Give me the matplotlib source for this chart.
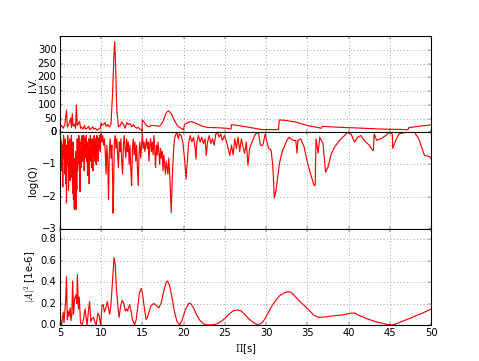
import matplotlib
matplotlib.use("Agg")
import matplotlib.pyplot as plt

# ---------------- data ----------------
iv_x = [5.0, 5.2, 5.4, 5.6, 5.8, 5.9, 6.1, 6.3, 6.4, 6.5, 6.6, 6.8, 6.9, 7.0, 7.1, 7.2, 7.4, 7.5, 7.6,
        7.8, 8.0, 8.1, 8.3, 8.5, 8.6, 8.8, 9.0, 9.1, 9.3, 9.5, 9.7, 9.9, 10.0, 10.1, 10.3, 10.5, 10.6,
        10.8, 11.0, 11.2, 11.4, 11.55, 11.65, 11.75, 11.9, 12.1, 12.3, 12.5, 12.7, 12.9, 13.1, 13.3,
        13.5, 13.7, 13.9, 14.1, 14.3, 14.5, 14.7, 14.9, 14.95, 15.0, 15.2, 15.5, 15.8, 16.0, 16.3,
        16.7, 17.0, 17.2, 17.5, 17.8, 18.0, 18.2, 18.5, 18.9, 19.3, 19.7, 20.0, 20.1, 20.5, 20.9,
        21.5, 22.3, 22.9, 24.0, 25.2, 25.75, 25.8, 26.8, 28.0, 29.5, 31.5, 31.6, 32.2, 33.5, 35.0,
        36.7, 36.8, 38.5, 41.0, 44.0, 47.2, 47.3, 48.5, 50.0]
iv_v = [18, 25, 15, 28, 80, 20, 30, 52, 18, 68, 22, 30, 15, 100, 25, 30, 40, 15, 20,
        12, 25, 12, 15, 22, 10, 14, 20, 12, 15, 8, 12, 15, 35, 25, 30, 35, 22,
        28, 20, 30, 150, 280, 330, 250, 80, 20, 25, 38, 30, 15, 35, 28,
        32, 20, 28, 20, 15, 18, 12, 8, 5, 45, 38, 25, 20, 25, 25,
        24, 22, 25, 40, 65, 75, 78, 68, 42, 22, 15, 10, 28, 36, 39,
        33, 22, 18, 17, 15, 12, 28, 24, 18, 10, 10, 45, 44, 38, 25,
        15, 22, 19, 16, 12, 10, 17, 22, 27]

q_x = [5.00, 5.05, 5.10, 5.15, 5.20, 5.25, 5.30, 5.35, 5.40, 5.45, 5.50, 5.55, 5.60, 5.65, 5.70,
       5.75, 5.80, 5.85, 5.90, 5.95, 6.00, 6.05, 6.10, 6.15, 6.20, 6.25, 6.30, 6.35, 6.40, 6.45,
       6.50, 6.55, 6.60, 6.65, 6.70, 6.75, 6.80, 6.85, 6.90, 6.95, 7.00, 7.05, 7.10, 7.15, 7.20,
       7.25, 7.30, 7.35, 7.40, 7.45, 7.50, 7.55, 7.60, 7.65, 7.70, 7.75, 7.80, 7.85, 7.90, 7.95,
       8.00, 8.05, 8.10, 8.15, 8.20, 8.25, 8.30, 8.35, 8.40, 8.45, 8.50, 8.55, 8.60, 8.65, 8.70,
       8.75, 8.80, 8.85, 8.90, 8.95, 9.00, 9.05, 9.10, 9.15, 9.20, 9.25, 9.30, 9.35, 9.40, 9.45,
       9.50, 9.55, 9.60, 9.65, 9.70, 9.75, 9.80, 9.85, 9.90, 9.95,
       10.0, 10.1, 10.2, 10.3, 10.4, 10.5, 10.6, 10.7, 10.8, 10.9, 11.0, 11.1, 11.2, 11.3, 11.4,
       11.45, 11.55, 11.6, 11.7, 11.8, 11.9, 12.0, 12.1, 12.2, 12.3, 12.4, 12.5, 12.6, 12.7, 12.8,
       12.9, 13.0, 13.1, 13.2, 13.3, 13.4, 13.5, 13.6, 13.7, 13.8, 13.9, 14.0, 14.1, 14.2, 14.3,
       14.4, 14.5, 14.6, 14.7, 14.8, 14.9, 15.0,
       15.1, 15.2, 15.3, 15.4, 15.5, 15.6, 15.7, 15.8, 15.9, 16.0, 16.1, 16.2, 16.3, 16.4, 16.5,
       16.6, 16.7, 16.8, 16.9, 17.0, 17.1, 17.2, 17.3, 17.4, 17.5, 17.6, 17.7, 17.8, 17.9, 18.0,
       18.1, 18.2, 18.35, 18.5, 18.6, 18.7, 18.8, 18.9, 19.0, 19.2, 19.35, 19.5, 19.7, 19.9, 20.1,
       20.3, 20.45, 20.6,
       20.8, 21.0, 21.2, 21.4, 21.5, 21.6, 21.8, 22.0, 22.2, 22.4, 22.6, 22.75, 22.9, 23.1, 23.3,
       23.5, 23.7, 23.9, 24.1, 24.3, 24.5, 24.7, 24.95, 25.2, 25.4, 25.6, 25.8, 26.0, 26.2, 26.4,
       26.6, 26.8, 27.0, 27.2, 27.4, 27.6, 27.8, 28.0, 28.3, 28.6, 28.9, 29.1, 29.3, 29.6, 29.9,
       30.1, 30.3, 30.6, 30.8, 31.0, 31.2, 31.4, 31.6, 31.8, 32.0, 32.2, 32.5, 32.8, 33.0, 33.3,
       33.6, 33.75, 33.85, 34.2, 34.6, 35.0, 35.4, 35.8, 35.95, 36.05, 36.3, 36.5, 36.9, 37.2, 37.5,
       37.9, 38.3, 38.9, 39.5, 39.9, 40.3, 40.7, 41.1, 41.5, 41.9, 42.5, 42.9, 43.0, 43.1, 43.4,
       43.9, 44.5, 44.9, 45.3, 45.35, 45.7, 46.1, 46.9, 48.0, 48.5, 49.2, 49.8, 50.0]
q_v = [-0.1, -0.6, -0.2, -0.9, -0.3, -1.2, -0.4, -1.7, -0.5, -0.1, -0.8, -0.3, -1.3, -0.2, -1.6,
       -0.6, -2.2, -0.4, -1.0, -0.1, -0.7, -1.8, -0.3, -1.1, -0.2, -1.5, -0.5, -0.9, -0.1, -1.4,
       -0.6, -1.9, -0.3, -2.1, -0.8, -2.4, -1.0, -2.35, -0.6, -2.4, -0.9, -1.8, -0.2, -1.2, -0.4,
       -0.8, -0.1, -1.0, -0.3, -1.85, -0.5, -1.1, -0.2, -0.7, -0.1, -0.9, -0.3, -0.6, -0.1, -1.2,
       -0.4, -0.8, -0.2, -0.5, -0.1, -0.9, -0.3, -1.35, -0.4, -0.7, -0.2, -1.6, -0.5, -0.9, -0.1,
       -0.6, -0.3, -1.1, -0.2, -0.5, -1.2, -0.3, -0.7, -0.1, -0.5, -0.9, -0.2, -0.6, -1.0, -0.3,
       -0.1, -0.8, -0.4, -0.9, -0.2, -0.5, -0.1, -0.3, -0.6, -0.1,
       -0.05, -0.3, -0.1, -0.4, -0.2, -0.6, -1.3, -0.4, -0.9, -2.1, -0.6, -0.2, -0.8, -0.4, -1.5,
       -2.52, -1.2, -0.3, -0.1, -0.5, -0.2, -0.7, -1.1, -0.3, -0.6, -0.2, -0.9, -1.3, -0.4, -0.1,
       -0.5, -0.8, -0.2, -0.6, -0.3, -1.0, -0.4, -1.2, -1.65, -0.5, -0.2, -0.7, -0.3, -0.9, -0.4,
       -1.1, -1.66, -0.6, -0.3, -0.8, -0.4, -0.05,
       -0.5, -0.3, -0.6, -0.4, -0.2, -0.5, -0.3, -0.9, -0.4, -0.2, -0.6, -0.3, -0.7, -0.1, -0.5,
       -1.1, -0.4, -0.7, -0.3, -0.6, -1.0, -0.5, -0.8, -0.6, -1.2, -0.7, -1.0, -1.3, -0.9, -1.1,
       -1.3, -0.8, -1.5, -2.5, -1.6, -1.0, -0.5, -0.2, -0.1, 0.0, -0.2, -0.05, -0.1, -0.3, -0.78,
       -1.45, -0.9, -0.35,
       -0.1, -0.3, -0.15, -0.5, -0.83, -0.3, -0.1, -0.3, -0.15, -0.35, -0.2, -0.72, -0.3, -0.1, -0.35,
       -0.2, -0.4, -0.05, 0.0, -0.15, -0.05, -0.25, -0.1, -0.3, -0.5, -0.72, -0.4, -0.7, -0.2, -0.5,
       -0.15, -0.6, -0.2, -0.45, -0.65, -0.3, -1.03, -0.5, -0.3, -0.1, 0.0, -0.05, -0.4, -0.4, -0.05,
       -0.3, -0.5, -0.55, -1.0, -2.05, -1.8, -1.4, -1.0, -0.75, -0.56, -0.45, -0.25, -0.15, -0.2, -0.25,
       -0.25, -0.65, -0.25, -0.2, -0.45, -0.93, -1.3, -1.65, -1.65, -0.2, -0.65, -0.15, -0.35, -1.24, -1.08,
       -0.67, -0.46, -0.25, -0.1, 0.0, -0.05, -0.3, -0.15, -0.1, -0.25, -0.4, -0.56, -0.56, -0.05, -0.25,
       -0.2, -0.1, 0.0, -0.05, -0.5, -0.25, -0.05, 0.0, 0.0, -0.2, -0.72, -0.75, -0.82]

a_x = [5.0, 5.2, 5.4, 5.5, 5.7, 5.8, 5.9, 6.0, 6.1, 6.25, 6.35, 6.45, 6.55, 6.65, 6.8, 6.95, 7.05,
       7.12, 7.25, 7.35, 7.5, 7.7, 7.9, 8.05, 8.2, 8.3, 8.45, 8.6, 8.75, 8.9, 9.1, 9.25, 9.4, 9.6,
       9.75, 9.95, 10.1, 10.25, 10.4, 10.55, 10.75, 10.9, 11.05, 11.2, 11.37, 11.57, 11.7, 11.85,
       12.0, 12.18, 12.35, 12.55, 12.75, 12.94, 13.1, 13.2, 13.45, 13.6, 13.8, 14.05, 14.25, 14.45,
       14.65, 14.85, 15.0, 15.2, 15.45, 15.6, 15.8, 16.05, 16.4, 16.7, 17.0, 17.3, 17.6, 17.9, 18.05,
       18.3, 18.6, 18.9, 19.2, 19.5, 19.8, 20.2, 20.6, 20.85, 21.2, 21.6, 22.0, 22.4, 22.9, 23.5,
       24.0, 24.5, 25.0, 25.5, 26.0, 26.5, 27.0, 27.5, 28.0, 28.5, 29.0, 29.5, 29.8, 30.3, 30.8,
       31.2, 31.6, 32.2, 32.7, 33.1, 33.6, 34.2, 34.8, 35.3, 35.8, 36.4, 37.2, 38.1, 39.0, 39.7,
       40.3, 40.8, 41.2, 41.7, 42.3, 42.9, 43.5, 44.1, 44.6, 45.1, 45.6, 46.1, 46.9, 47.7, 48.3,
       48.95, 49.5, 50.0]
a_v = [0.085, 0.0, 0.12, 0.02, 0.22, 0.45, 0.05, 0.13, 0.08, 0.16, 0.04, 0.1, 0.41, 0.1, 0.25, 0.28, 0.2,
       0.47, 0.15, 0.26, 0.02, 0.0, 0.07, 0.15, 0.06, 0.0, 0.12, 0.22, 0.03, 0.06, 0.07, 0.02, 0.0, 0.11,
       0.09, 0.0, 0.18, 0.19, 0.12, 0.15, 0.22, 0.15, 0.1, 0.2, 0.4, 0.63, 0.57, 0.35,
       0.2, 0.07, 0.17, 0.23, 0.2, 0.13, 0.15, 0.13, 0.19, 0.14, 0.05, 0.0, 0.05, 0.17,
       0.3, 0.34, 0.3, 0.18, 0.05, 0.07, 0.12, 0.18, 0.2, 0.18, 0.16, 0.21, 0.32, 0.4, 0.41,
       0.37, 0.25, 0.12, 0.03, 0.0, 0.04, 0.14, 0.2, 0.2, 0.16, 0.09, 0.04, 0.01, 0.0, 0.0,
       0.01, 0.03, 0.06, 0.1, 0.13, 0.14, 0.13, 0.09, 0.05, 0.02, 0.0, 0.02, 0.05, 0.12, 0.19,
       0.23, 0.27, 0.3, 0.31, 0.3, 0.26, 0.21, 0.17, 0.13, 0.09, 0.07, 0.075, 0.085, 0.09, 0.1,
       0.11, 0.11, 0.09, 0.075, 0.055, 0.04, 0.025, 0.015, 0.005, 0.0, 0.005, 0.02, 0.045, 0.07, 0.09,
       0.11, 0.13, 0.147]

iv_ticks = [0, 50, 100, 150, 200, 250, 300]
q_ticks = [-3, -2, -1, 0]
a_ticks = [0.0, 0.2, 0.4, 0.6, 0.8]
x_ticks = [5, 10, 15, 20, 25, 30, 35, 40, 45, 50]

# ---------------- plot ----------------
plt.style.use('classic')
plt.rcParams['figure.facecolor'] = 'white'
plt.rcParams['savefig.facecolor'] = 'white'
plt.rcParams['axes.linewidth'] = 1.3

fig, (ax1, ax2, ax3) = plt.subplots(3, 1, sharex=True, figsize=(479 / 60, 361 / 60), dpi=60)
fig.subplots_adjust(left=0.125, right=0.9, bottom=0.1, top=0.9, hspace=0)

lw = 1.4
ax1.plot(iv_x, iv_v, color='r', lw=lw)
ax1.set_ylim(0, 350)
ax1.set_yticks(iv_ticks)
ax1.set_ylabel('I.V.')

ax2.plot(q_x, q_v, color='r', lw=lw)
ax2.set_ylim(-3, 0)
ax2.set_yticks(q_ticks)
ax2.set_ylabel('log(Q)')

ax3.plot(a_x, a_v, color='r', lw=lw)
ax3.set_ylim(0, 0.9)
ax3.set_yticks(a_ticks)
ax3.set_ylabel(r'$|A|^2$ [1e-6]')
ax3.set_xlabel(r'$\Pi$[s]')
ax3.set_xlim(5, 50)
ax3.set_xticks(x_ticks)

for ax in (ax1, ax2, ax3):
    ax.grid(True, color='0.35', linewidth=0.7)
    ax.yaxis.set_label_coords(-0.06, 0.5)

fig.savefig('out.png', dpi=60)
